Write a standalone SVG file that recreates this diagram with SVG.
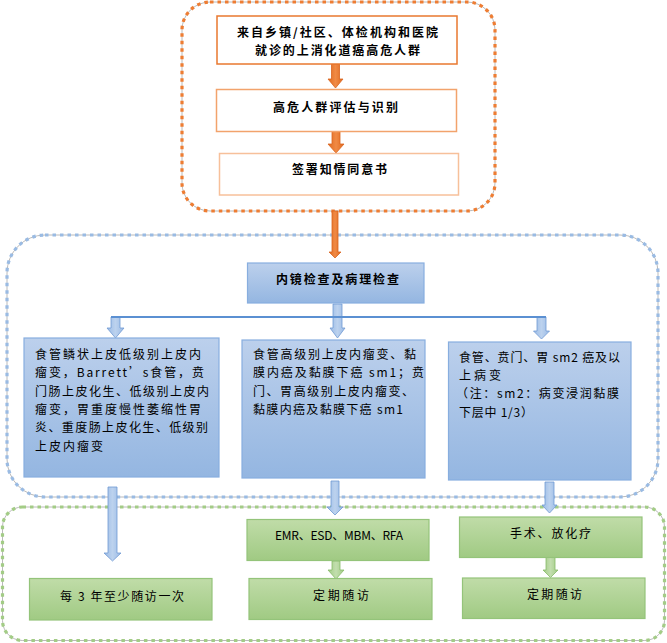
<svg xmlns="http://www.w3.org/2000/svg" width="667" height="643" viewBox="0 0 667 643">
<defs>
<linearGradient id="gBlue" x1="0" y1="0" x2="0" y2="1">
<stop offset="0" stop-color="#BCD0EC"/>
<stop offset="1" stop-color="#94B6E1"/>
</linearGradient>
<linearGradient id="gGreen" x1="0" y1="0" x2="0" y2="1">
<stop offset="0" stop-color="#C0DCA8"/>
<stop offset="1" stop-color="#A0CA83"/>
</linearGradient>
<linearGradient id="gOrange" x1="0" y1="0" x2="1" y2="0">
<stop offset="0" stop-color="#E0691E"/>
<stop offset="0.5" stop-color="#F08A45"/>
<stop offset="1" stop-color="#E0691E"/>
</linearGradient>
<linearGradient id="gBlueArrow" x1="0" y1="0" x2="1" y2="0">
<stop offset="0" stop-color="#9BBBE6"/>
<stop offset="0.5" stop-color="#BCD2EE"/>
<stop offset="1" stop-color="#9BBBE6"/>
</linearGradient>
<linearGradient id="gGreenArrow" x1="0" y1="0" x2="1" y2="0">
<stop offset="0" stop-color="#A2CB86"/>
<stop offset="0.5" stop-color="#C2DEAE"/>
<stop offset="1" stop-color="#A2CB86"/>
</linearGradient>
</defs>
<style>
.frameLine{fill:none;stroke:#A8A8A8;stroke-width:0.8}
.dotO{fill:none;stroke:#EE7D33;stroke-width:3.2;stroke-dasharray:3.5 4}
.dotB{fill:none;stroke:#9ABBE3;stroke-width:3.2;stroke-dasharray:3.5 4}
.dotG{fill:none;stroke:#A3CC86;stroke-width:3.2;stroke-dasharray:3.5 4}
.oBox{fill:#FFFFFF;stroke-width:1.5}
.bBox{fill:url(#gBlue);stroke:#88AEDF;stroke-width:1.2}
.gBox{fill:url(#gGreen);stroke:#94C47A;stroke-width:1.2}
.oArrow{fill:url(#gOrange);stroke:#D9651E;stroke-width:0.8}
.bArrow{fill:url(#gBlueArrow);stroke:#7099D3;stroke-width:0.8}
.gArrow{fill:url(#gGreenArrow);stroke:#86BA68;stroke-width:0.8}
.hLine{fill:none;stroke:#5B90D2;stroke-width:1.8}
text{font-family:"Noto Sans CJK SC","Noto Sans",sans-serif;fill:#000000;dominant-baseline:central}
.tb{font-size:12px;font-weight:bold}
.tr{font-size:12px}
</style>

<g id="frames">
<rect class="frameLine" x="182" y="2" width="313" height="209" rx="28"/>
<rect class="dotO" x="182" y="2" width="313" height="209" rx="28"/>
<rect class="frameLine" x="7" y="235" width="651" height="262" rx="38"/>
<rect class="dotB" x="7" y="235" width="651" height="262" rx="38"/>
<rect class="frameLine" x="2.5" y="507" width="662" height="133.5" rx="20"/>
<rect class="dotG" x="2.5" y="507" width="662" height="133.5" rx="20"/>
</g>

<g id="connectors">
<path class="oArrow" d="M331.5,64 H339.5 V79 H343 L335.5,88 L328,79 H331.5 Z"/>
<path class="oArrow" d="M332,131 H340 V144 H344 L336,153 L328,144 H332 Z"/>
<path class="oArrow" d="M332,211 H338 V252 H341 L335,258 L329,252 H332 Z"/>
<path class="bArrow" d="M333,304 H342 V328 H345 L337.5,338 L330,328 H333 Z"/>
<path class="bArrow" d="M111,317 H120 V328 H124 L115.5,338 L107,328 H111 Z"/>
<path class="bArrow" d="M537,317 H546 V331 H549.5 L541.5,339 L533.5,331 H537 Z"/>
<path class="hLine" d="M111,317 H546"/>
<path class="bArrow" d="M108,487 H117 V553 H121 L112.5,561 L104,553 H108 Z"/>
<path class="bArrow" d="M331,481 H339 V507 H343 L335,515 L327,507 H331 Z"/>
<path class="bArrow" d="M545,482 H554 V505 H557 L549.5,513 L542,505 H545 Z"/>
<path class="gArrow" d="M332,561 H340 V570 H344 L336,579 L328,570 H332 Z"/>
<path class="gArrow" d="M546,557 H555 V570 H558 L550.5,577.5 L543,570 H546 Z"/>
</g>

<g id="n1">
<rect class="oBox" x="217" y="16" width="240" height="48" stroke="#E9782F"/>
<text class="tb" x="237" y="31.5" textLength="201" lengthAdjust="spacing">来自乡镇/社区、体检机构和医院</text>
<text class="tb" x="255" y="49.5" textLength="165" lengthAdjust="spacing">就诊的上消化道癌高危人群</text>
</g>
<g id="n2">
<rect class="oBox" x="216.5" y="89.5" width="240" height="42" stroke="#F2A36C"/>
<text class="tb" x="273" y="106" textLength="125" lengthAdjust="spacing">高危人群评估与识别</text>
</g>
<g id="n3">
<rect class="oBox" x="219.5" y="153.5" width="239" height="41.5" stroke="#F7C09A"/>
<text class="tb" x="292" y="168" textLength="95" lengthAdjust="spacing">签署知情同意书</text>
</g>

<g id="n4">
<rect class="bBox" x="247.5" y="263" width="176.5" height="40"/>
<text class="tb" x="276" y="278" textLength="123" lengthAdjust="spacing">内镜检查及病理检查</text>
</g>

<g id="n5">
<rect class="bBox" x="24" y="338" width="195" height="139"/>
<text class="tr" x="35" y="353.5" textLength="166" lengthAdjust="spacing">食管鳞状上皮低级别上皮内</text>
<text class="tr" x="35" y="371.8" textLength="169" lengthAdjust="spacing">瘤变，Barrett’s食管，贲</text>
<text class="tr" x="35" y="390" textLength="174" lengthAdjust="spacing">门肠上皮化生、低级别上皮内</text>
<text class="tr" x="35" y="408.3" textLength="166" lengthAdjust="spacing">瘤变，胃重度慢性萎缩性胃</text>
<text class="tr" x="35" y="426.7" textLength="173" lengthAdjust="spacing">炎、重度肠上皮化生、低级别</text>
<text class="tr" x="35" y="445" textLength="68" lengthAdjust="spacing">上皮内瘤变</text>
</g>

<g id="n6">
<rect class="bBox" x="242" y="340" width="183" height="138"/>
<text class="tr" x="253" y="353.5" textLength="163" lengthAdjust="spacing">食管高级别上皮内瘤变、黏</text>
<text class="tr" x="253" y="371.8" textLength="171" lengthAdjust="spacing">膜内癌及黏膜下癌 sm1；贲</text>
<text class="tr" x="253" y="390" textLength="161" lengthAdjust="spacing">门、胃高级别上皮内瘤变、</text>
<text class="tr" x="253" y="408.3" textLength="150" lengthAdjust="spacing">黏膜内癌及黏膜下癌 sm1</text>
</g>

<g id="n7">
<rect class="bBox" x="448.5" y="342" width="182.5" height="138"/>
<text class="tr" x="459" y="356" textLength="161" lengthAdjust="spacing">食管、贲门、胃 sm2 癌及以</text>
<text class="tr" x="459" y="374.3" textLength="42" lengthAdjust="spacing">上病变</text>
<text class="tr" x="456" y="392.7" textLength="163" lengthAdjust="spacing">（注：sm2：病变浸润黏膜</text>
<text class="tr" x="459" y="411" textLength="74" lengthAdjust="spacing">下层中 1/3）</text>
</g>

<g id="n8">
<rect class="gBox" x="29.5" y="578.5" width="182.5" height="41.5"/>
<text class="tr" x="60" y="595" textLength="124" lengthAdjust="spacing">每 3 年至少随访一次</text>
</g>
<g id="n9">
<rect class="gBox" x="247" y="519.5" width="182" height="41"/>
<text class="tr" x="275" y="534" textLength="128" lengthAdjust="spacing">EMR、ESD、MBM、RFA</text>
</g>
<g id="n10">
<rect class="gBox" x="249" y="578.5" width="183" height="41"/>
<text class="tr" x="313" y="594" textLength="56" lengthAdjust="spacing">定期随访</text>
</g>
<g id="n11">
<rect class="gBox" x="459.5" y="517" width="182.5" height="40.5"/>
<text class="tr" x="510" y="532" textLength="81" lengthAdjust="spacing">手术、放化疗</text>
</g>
<g id="n12">
<rect class="gBox" x="462.5" y="578" width="182.5" height="40.5"/>
<text class="tr" x="527" y="593" textLength="55" lengthAdjust="spacing">定期随访</text>
</g>
</svg>
